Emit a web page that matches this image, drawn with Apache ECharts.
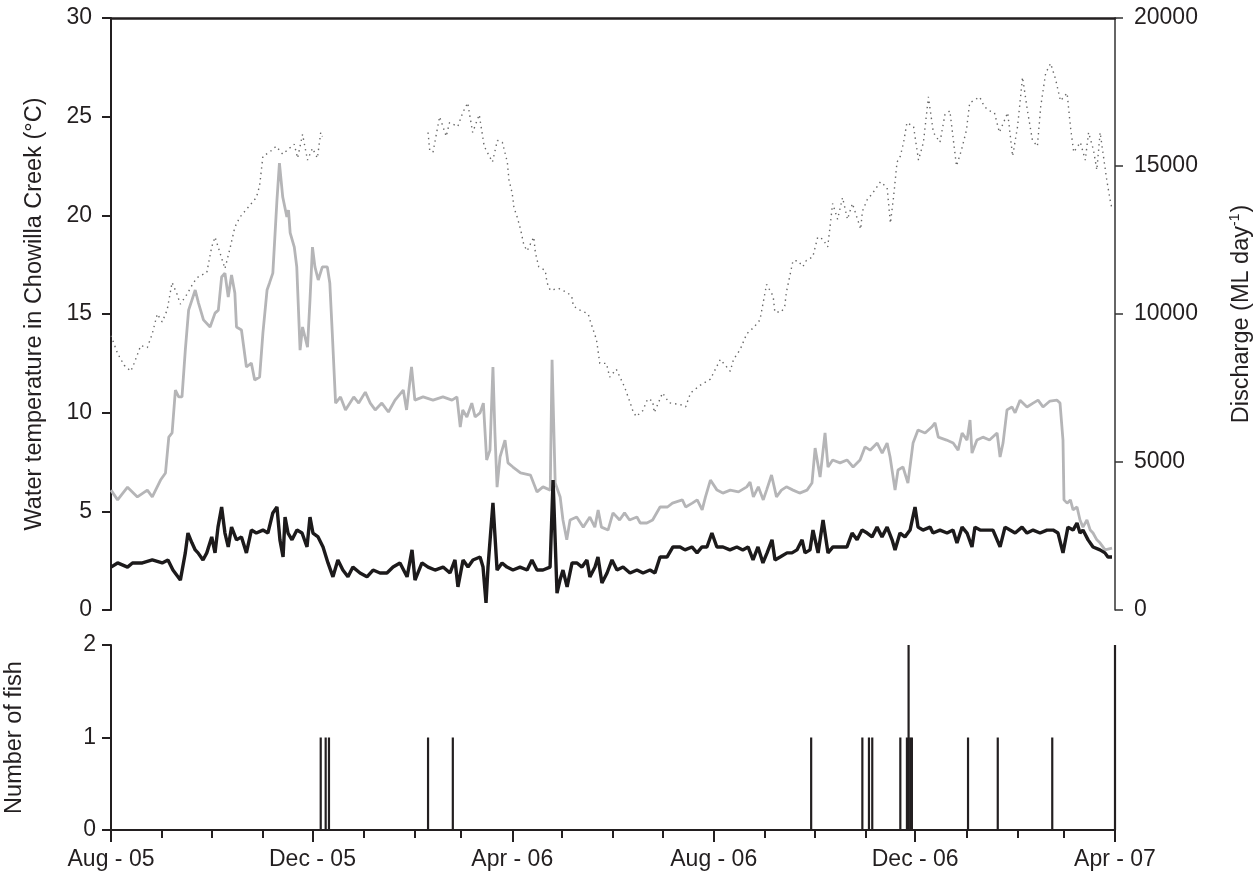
<!DOCTYPE html>
<html>
<head>
<meta charset="utf-8">
<script src="https://cdn.jsdelivr.net/npm/echarts@6/dist/echarts.min.js"></script>
<style>html,body{margin:0;padding:0;background:#fff}#c{width:1258px;height:878px}</style>
</head>
<body>
<div id="c"></div>
<script>
// ---- DATA (days counted from 1 Aug 2005) ----
// Water temperature (°C), dotted line, left axis; null marks the gap in the record
const tempDays = [0,4,8,12,14,18,22,25,28,31,34,37,40,42,46,50,53,58,61,63,66,69,72,75,78,83,88,90,92,96,100,104,108,111,113,116,119,122,125,127,128,
  160,
  192,193,195,199,203,205,210,213,216,219,223,226,231,234,237,240,241,243,244,246,248,250,252,256,257,259,263,264,266,271,276,279,280,284,289,290,294,296,300,302,306,311,314,316,318,322,325,328,329,334,338,345,348,351,357,363,369,375,377,381,385,389,393,395,397,401,402,406,408,409,411,413,416,419,421,425,428,431,434,435,437,440,443,446,449,454,455,458,461,466,470,472,474,476,478,480,482,486,489,492,495,498,502,505,508,512,515,518,520,526,529,532,535,538,543,546,549,552,555,558,561,563,566,569,572,575,579,581,583,587,590,592,595,597,599,601,603,605,606];
const tempVals = [13.9,13.0,12.4,12.1,12.5,13.4,13.3,14.0,15.0,14.6,15.2,16.6,16.0,15.5,16.0,16.6,16.9,17.1,18.4,18.9,18.1,17.3,18.3,19.4,19.9,20.4,20.9,21.5,23.0,23.2,23.5,23.1,23.4,23.6,22.9,24.1,22.8,23.4,22.9,24.2,24.0,
  null,
  24.2,23.3,23.2,25.0,24.0,24.7,24.5,25.2,25.7,24.2,25.1,23.5,22.7,23.8,23.7,22.7,21.8,21.1,20.4,19.9,19.3,18.5,18.2,18.9,18.1,17.4,17.2,16.6,16.2,16.3,16.1,15.9,15.4,15.2,15.0,14.7,13.7,12.5,12.5,11.8,12.2,11.3,10.6,10.1,9.8,10.1,10.7,10.6,10.0,11.0,10.5,10.4,10.3,11.0,11.4,11.7,12.7,12.1,12.7,13.2,14.0,14.3,14.7,15.6,16.5,15.9,15.1,15.1,15.4,16.1,16.9,17.7,17.7,17.4,17.7,17.9,18.9,18.8,18.4,19.1,20.6,19.8,20.9,19.8,20.6,19.3,20.2,20.8,21.1,21.7,21.4,19.6,21.0,22.7,23.0,23.7,24.7,24.5,22.8,23.7,26.0,24.2,23.7,25.1,25.3,22.5,23.3,24.3,25.7,26.0,25.5,25.3,25.2,24.2,25.2,23.0,24.5,27.0,25.3,23.8,23.5,25.5,27.2,27.7,26.9,25.8,26.2,24.5,23.2,23.7,22.8,24.2,23.3,22.3,24.2,23.0,21.8,20.8,20.4];

// Discharge (ML day-1), grey line, right axis
const greyDays = [0,4,10,16,22,25,30,33,35,37,39,41,43,45,47,49,51,53,56,60,63,65,67,69,71,73,75,76,79,82,85,87,90,92,94.5,96,98,100.5,102,104,106.5,107.5,108.5,111,112.5,114.5,116,119,120.5,122,123.5,125.5,128,131,132.5,134,136,139,142,147,150,154,157,160,164,168,172,177,179,182,184,189,195,201,206.5,209.5,211.5,213,215.5,218.5,220.5,223.5,225.5,227.5,229.5,231.3,232.5,233.8,235.6,238.6,240.4,243.4,248,254,258,261.6,266,267.1,269,272,273.7,276,278,282,286,290,293,295,297,301,304,308,311,314,318.5,320.5,324.5,328,332.5,337,340,346,348,352,355,358,360,363,367,370.5,375,380,385,387,389,392,395,397,400,403,406,409,413,417,421.5,424.5,426.4,429.4,432.4,434.2,437,441.5,445.7,449.4,453.6,456.6,459.7,464,467,470,471.8,474.8,476.6,479.6,482.6,485.7,488.7,493,497,499,501,506,510,513,515.4,518.4,520.2,521.4,524.4,528,532,536.6,538.4,540.2,542.6,545.6,547.5,550.5,554.7,558.4,561.4,564.4,568.6,572.9,574.7,576.5,577.1,579,581,582.6,585,586.8,588.6,591,593,594.7,597,599,602,606.2];
const greyVals = [4050,3720,4150,3820,4050,3820,4390,4630,5840,5980,7430,7200,7200,8780,10130,10470,10810,10370,9800,9560,10030,10130,11250,11380,10570,11320,10710,9560,9460,8210,8340,7770,7870,9360,10810,11050,11380,13850,15100,13950,13280,13510,12740,12260,11590,8780,9560,8880,10470,12260,11590,11150,11590,11590,11050,9360,6990,7200,6760,7200,6990,7360,6990,6760,6990,6690,7090,7430,6760,8210,7090,7200,7090,7200,7090,7200,6180,6760,6520,6990,6520,6660,6990,5070,5400,8210,5980,4150,5170,5740,4970,4830,4630,4560,3990,4160,4050,8450,4290,3820,3040,2370,3040,3140,2800,3140,2800,3380,2800,2700,3280,3040,3280,3040,3140,2940,2940,3040,3480,3480,3610,3720,3480,3610,3720,3380,3820,4390,4050,3950,4050,3990,4160,4320,3820,4160,3720,4050,4560,3820,4050,4160,4050,3950,4050,4290,5470,4490,5980,4830,5070,4970,5070,4830,5070,5510,5400,5640,5300,5640,5170,4050,4730,4830,4290,5640,6080,5980,6180,6320,5840,5740,5640,5400,5980,5740,6420,5300,5740,5840,5740,5980,5170,5640,6760,6860,6660,7090,6860,6990,7090,6860,7060,7090,6990,5740,3720,3610,3720,3380,3480,3040,2800,3040,2700,2600,2370,2260,2030,2090];

// Discharge (ML day-1), black line, right axis
const blackDays = [0,4,10,13,19,25,31,34.5,37.5,42,45,46.6,49,51,52.7,55.7,58,61,63,64.8,67,69,71,73,76,79,82,85,88,92,95,98,100.5,102.3,104.2,105.4,107.2,109.6,112.6,115.7,118.7,120.5,122.3,125.4,128.4,131.4,134.4,137.4,140.4,143.5,146.5,150.8,155,158.7,162.9,167.1,170.8,175,179.3,182.3,184.1,188.3,192,196.2,201.1,205.3,208.3,210.1,213.2,216.2,219.2,223.5,225.3,227.1,228.3,231.3,233.8,236.8,239.8,243.4,247.7,252,254.9,258,261.6,265.9,267.1,267.7,270.1,271.9,273.7,276.2,279.2,282.2,285.2,288.2,290,293.1,294.9,297.3,300.4,303.4,306.4,310.1,314.3,318.5,322.2,326.4,329.4,332.5,336.7,340.3,344.6,347.6,351.8,354.9,357.9,360.9,363.9,366.9,370.6,374.8,379,382.6,385.8,388.8,391.8,394.8,397.3,400.3,402.1,405.2,409.4,412.4,415.4,418.5,420.3,423.3,425.1,428.2,431.2,434.2,437.2,441.5,445.7,448.8,451.8,454.8,457.9,460.9,463.9,466.9,470,473,474.8,477.8,480.8,483.9,486.9,488.7,491.7,496,497.8,502,506.3,509.9,512.3,515.4,518.4,521.4,523.2,526.3,530.5,534.1,538.4,541.4,544.4,547.5,551.7,554.7,558.4,562.6,566.8,570.5,573.5,576.5,579.5,582.6,585,586.8,588.6,591.7,594.7,598.9,601.9,603.7,606.2];
const blackVals = [1450,1590,1450,1590,1590,1690,1590,1690,1350,1010,1930,2600,2270,2030,1930,1690,1930,2470,1930,2800,3480,2600,2130,2800,2370,2470,1930,2700,2600,2700,2600,3280,3480,2370,1790,3140,2600,2370,2700,2600,2130,3140,2600,2470,2130,1590,1120,1690,1350,1120,1450,1250,1120,1350,1250,1250,1450,1590,1120,2030,1010,1590,1450,1350,1450,1250,1690,780,1690,1450,1690,1790,1450,240,1450,3620,1350,1590,1450,1350,1450,1350,1690,1350,1350,1450,1450,4390,570,1010,1350,780,1590,1590,1450,1690,1120,1450,1790,910,1250,1690,1350,1450,1250,1350,1250,1350,1250,1790,1790,2130,2130,2030,2130,1930,2130,2130,2600,2130,2130,2030,2130,2030,2130,1690,2130,1590,1930,2370,1690,1790,1930,1930,2030,2370,1930,2030,2700,1930,3040,1930,2130,2130,2130,2600,2370,2700,2600,2470,2800,2470,2800,2370,2030,2600,2470,2700,3480,2800,2700,2800,2600,2700,2600,2700,2260,2800,2600,2130,2800,2700,2700,2700,2130,2800,2700,2600,2800,2600,2700,2600,2700,2700,2600,1930,2800,2700,2940,2600,2700,2370,2130,2030,1930,1790,1790];

// Number of fish (bottom panel)
const fishDates = ['2005-12-06','2005-12-09','2005-12-11','2006-02-09','2006-02-24','2006-09-29','2006-10-30','2006-11-03','2006-11-05','2006-11-22','2006-11-26','2006-11-27','2006-11-28','2006-11-29','2007-01-02','2007-01-20','2007-02-22','2007-04-01'];
const fishCounts = [1,1,1,1,1,1,1,1,1,1,1,2,1,1,1,1,1,2];

// Axis tick labels
const tickLabels = ['Aug - 05','Dec - 05','Apr - 06','Aug - 06','Dec - 06','Apr - 07'];
const tickLabelDates = ['2005-08-01','2005-12-01','2006-04-01','2006-08-01','2006-12-01','2007-04-01'];

// ---- CHART ----
const FONT = '"Liberation Sans", Arial, Helvetica, sans-serif';
const INK = '#231f20';
const DAY = 86400000;
function parseDate(s){ const p = s.split('-').map(Number); return new Date(p[0], p[1]-1, p[2]).getTime(); }
const start = parseDate('2005-08-01');
const end = parseDate('2007-04-01');
function dayToTime(d){ return start + d*DAY; }
function pairs(days, vals){ return days.map((d,i)=>[dayToTime(d), vals[i] === null ? '-' : vals[i]]); }

const monthTicks = [];
for (let i = 0; i <= 20; i++) monthTicks.push(new Date(2005, 7+i, 1).getTime());
const labelTimes = tickLabelDates.map(parseDate);

const labelStyle = {fontSize: 23, color: INK, fontFamily: FONT};
const nameStyle = {fontSize: 23.5, color: INK, fontFamily: FONT};

const chart = echarts.init(document.getElementById('c'), null, {renderer: 'canvas'});
chart.setOption({
  animation: false,
  backgroundColor: '#fff',
  textStyle: {fontFamily: FONT, color: INK},
  grid: [
    {left: 111, top: 18, width: 1004, height: 592, outerBoundsMode: 'none', containLabel: false},
    {left: 111, top: 645, width: 1004, height: 185, outerBoundsMode: 'none', containLabel: false}
  ],
  xAxis: [
    {gridIndex: 0, type: 'value', min: start, max: end, position: 'top',
     axisLine: {show: true, onZero: false, lineStyle: {color: INK, width: 2.5}},
     axisTick: {show: false}, axisLabel: {show: false}, splitLine: {show: false}},
    {gridIndex: 1, type: 'value', min: start, max: end, position: 'bottom',
     axisLine: {show: true, onZero: false, lineStyle: {color: INK, width: 2}},
     axisTick: {show: true, length: 8, lineStyle: {color: INK, width: 2}, customValues: monthTicks},
     axisLabel: {show: false}, splitLine: {show: false}},
    {gridIndex: 1, type: 'value', min: start, max: end, position: 'bottom',
     axisLine: {show: false, onZero: false},
     axisTick: {show: true, length: 12, lineStyle: {color: INK, width: 2}, customValues: labelTimes},
     axisLabel: Object.assign({customValues: labelTimes, margin: 18, hideOverlap: false, showMinLabel: true, showMaxLabel: true,
       formatter: function(v){ let best = 0, bd = Infinity; labelTimes.forEach((t,i)=>{ const dd = Math.abs(t - v); if (dd < bd){bd = dd; best = i;} }); return tickLabels[best]; }}, labelStyle),
     splitLine: {show: false}}
  ],
  yAxis: [
    {gridIndex: 0, type: 'value', position: 'left', min: 0, max: 30, interval: 5,
     axisLine: {show: true, onZero: false, lineStyle: {color: INK, width: 2}},
     axisTick: {show: true, length: 9, lineStyle: {color: INK, width: 2}},
     axisLabel: Object.assign({margin: 19, formatter: v => String(v)}, labelStyle), splitLine: {show: false},
     name: 'Water temperature in Chowilla Creek (°C)', nameLocation: 'middle', nameRotate: 90, nameGap: 64,
     nameTextStyle: nameStyle},
    {gridIndex: 0, type: 'value', position: 'right', min: 0, max: 20000, interval: 5000,
     axisLine: {show: true, onZero: false, lineStyle: {color: '#333', width: 1.5}},
     axisTick: {show: true, length: 8, lineStyle: {color: '#333', width: 1.5}},
     axisLabel: Object.assign({margin: 19, formatter: v => String(v)}, labelStyle), splitLine: {show: false},
     name: '{a|Discharge (ML day}{s|-1}{a|)}', nameLocation: 'middle', nameRotate: 90, nameGap: 113,
     nameTextStyle: Object.assign({}, nameStyle, {
       rich: {a: {fontSize: 23.5, color: INK, fontFamily: FONT, lineHeight: 28},
              s: {fontSize: 14, color: INK, fontFamily: FONT, verticalAlign: 'top', lineHeight: 28, padding: [0, 1, 12, 0]}}})},
    {gridIndex: 1, type: 'value', position: 'left', min: 0, max: 2, interval: 1,
     axisLine: {show: true, onZero: false, lineStyle: {color: INK, width: 2}},
     axisTick: {show: true, length: 9, lineStyle: {color: INK, width: 2}},
     axisLabel: Object.assign({margin: 15}, labelStyle), splitLine: {show: false},
     name: 'Number of fish', nameLocation: 'middle', nameRotate: 90, nameGap: 84,
     nameTextStyle: nameStyle}
  ],
  series: [
    {name: 'Water temperature', type: 'line', xAxisIndex: 0, yAxisIndex: 0, showSymbol: false, connectNulls: false,
     lineStyle: {color: '#666', width: 1.4, type: [1.4, 4]}, data: pairs(tempDays, tempVals)},
    {name: 'Discharge (grey)', type: 'line', xAxisIndex: 0, yAxisIndex: 1, showSymbol: false,
     lineStyle: {color: '#b5b5b7', width: 2.8}, data: pairs(greyDays, greyVals)},
    {name: 'Discharge (black)', type: 'line', xAxisIndex: 0, yAxisIndex: 1, showSymbol: false,
     lineStyle: {color: '#1c1a1b', width: 3.4}, data: pairs(blackDays, blackVals)},
    {name: 'Number of fish', type: 'bar', xAxisIndex: 1, yAxisIndex: 2, barWidth: 2.2,
     itemStyle: {color: INK}, data: fishDates.map((s,i)=>[parseDate(s), fishCounts[i]])}
  ]
});
</script>
</body>
</html>
